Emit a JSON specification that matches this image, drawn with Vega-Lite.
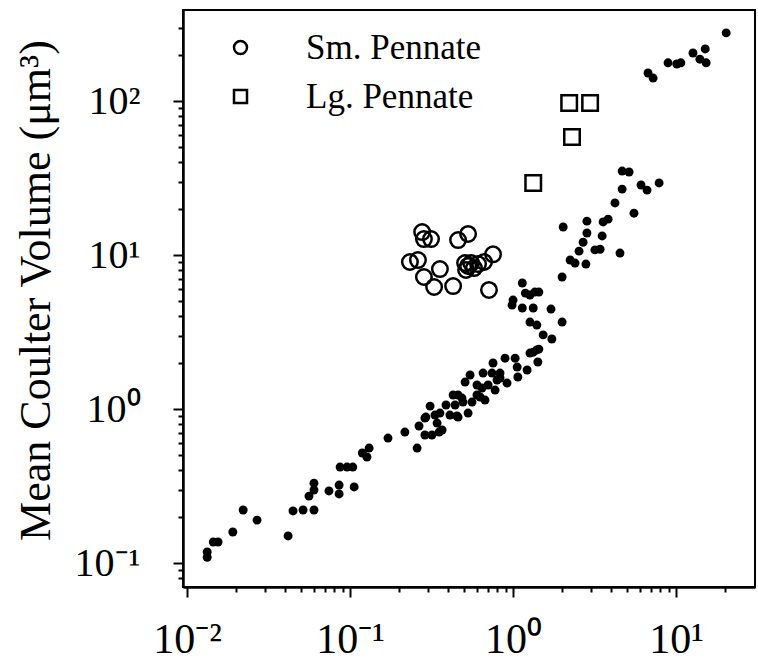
{
  "$schema": "https://vega.github.io/schema/vega-lite/v6.json",
  "width": 572,
  "height": 577,
  "autosize": {"type": "none"},
  "padding": {"left": 183, "top": 10, "right": 3, "bottom": 80},
  "background": "white",
  "config": {
    "view": {"stroke": "black", "strokeWidth": 2},
    "font": "Liberation Serif",
    "axis": {
      "domainColor": "black", "domainWidth": 2.5, "tickColor": "black", "tickWidth": 2,
      "labelColor": "black", "labelFont": "Liberation Serif", "titleFont": "Liberation Serif",
      "titleColor": "black", "titleFontWeight": "normal", "grid": false,
      "labelFlush": false, "labelOverlap": false
    }
  },
  "datasets": {
    "dots": [
      {"x":0.0133,"y":0.118},{"x":0.0133,"y":0.109},{"x":0.0145,"y":0.137},{"x":0.0155,"y":0.137},
      {"x":0.0191,"y":0.159},{"x":0.0221,"y":0.221},{"x":0.0269,"y":0.19},{"x":0.0417,"y":0.15},
      {"x":0.0447,"y":0.218},{"x":0.0515,"y":0.221},{"x":0.0601,"y":0.221},{"x":0.056,"y":0.272},
      {"x":0.0601,"y":0.33},{"x":0.0601,"y":0.298},{"x":0.0743,"y":0.294},{"x":0.0857,"y":0.321},
      {"x":0.0857,"y":0.281},{"x":0.106,"y":0.312},{"x":0.0869,"y":0.42},{"x":0.0959,"y":0.42},
      {"x":0.104,"y":0.42},{"x":0.119,"y":0.518},{"x":0.131,"y":0.558},{"x":0.127,"y":0.488},
      {"x":0.171,"y":0.648},{"x":0.217,"y":0.709},{"x":0.258,"y":0.558},{"x":0.265,"y":0.776},
      {"x":0.292,"y":0.887},{"x":0.31,"y":1.045},{"x":0.288,"y":0.678},{"x":0.318,"y":0.678},
      {"x":0.352,"y":0.709},{"x":0.342,"y":0.811},{"x":0.356,"y":0.942},{"x":0.388,"y":1.062},
      {"x":0.41,"y":0.914},{"x":0.453,"y":0.901},{"x":0.53,"y":0.942},{"x":0.441,"y":1.062},
      {"x":0.493,"y":1.11},{"x":0.56,"y":1.11},{"x":0.673,"y":1.144},{"x":0.367,"y":0.731},
      {"x":0.429,"y":1.233},{"x":0.46,"y":1.233},{"x":0.486,"y":1.178},{"x":0.508,"y":1.497},
      {"x":0.545,"y":1.663},{"x":0.601,"y":1.432},{"x":0.645,"y":1.368},{"x":0.628,"y":1.197},
      {"x":0.703,"y":1.432},{"x":0.776,"y":1.328},{"x":0.798,"y":1.543},{"x":0.655,"y":1.713},
      {"x":0.743,"y":1.713},{"x":0.832,"y":1.713},{"x":0.754,"y":1.99},{"x":0.893,"y":2.14},
      {"x":1.03,"y":2.14},{"x":1.06,"y":1.873},{"x":1.07,"y":1.614},{"x":1.22,"y":1.792},
      {"x":0.919,"y":1.475},{"x":1.27,"y":2.31},{"x":1.4,"y":2.42},{"x":1.42,"y":2.02},
      {"x":1.53,"y":3.03},{"x":1.73,"y":2.85},{"x":1.27,"y":3.67},{"x":1.4,"y":3.51},
      {"x":2.0,"y":3.67},{"x":1.14,"y":6.58},{"x":1.19,"y":5.66},{"x":1.27,"y":5.5},
      {"x":1.36,"y":5.75},{"x":1.44,"y":5.75},{"x":1.0,"y":5.1},{"x":0.986,"y":4.73},
      {"x":1.14,"y":4.53},{"x":1.33,"y":4.53},{"x":1.71,"y":4.46},{"x":2.0,"y":7.2},
      {"x":2.24,"y":9.28},{"x":2.4,"y":8.87},{"x":2.8,"y":8.74},{"x":2.54,"y":10.6},
      {"x":2.69,"y":12.1},{"x":2.84,"y":13.9},{"x":2.03,"y":15.2},{"x":2.84,"y":16.6},
      {"x":3.57,"y":16.4},{"x":3.83,"y":17.1},{"x":3.52,"y":13.3},{"x":3.18,"y":10.8},
      {"x":3.42,"y":10.9},{"x":4.53,"y":10.3},{"x":4.22,"y":21.8},{"x":4.67,"y":26.8},
      {"x":5.52,"y":18.7},{"x":4.67,"y":35.1},{"x":5.15,"y":34.6},{"x":6.1,"y":28.5},
      {"x":6.64,"y":26.4},{"x":7.87,"y":29.4},{"x":6.73,"y":152},{"x":7.23,"y":141},
      {"x":8.93,"y":177},{"x":10.1,"y":174},{"x":10.7,"y":177},{"x":12.7,"y":205},
      {"x":15.1,"y":218},{"x":14.0,"y":187},{"x":15.3,"y":177},{"x":20.3,"y":277},
      {"x":0.288,"y":0.874},{"x":0.332,"y":0.914},{"x":0.46,"y":0.887},{"x":0.832,"y":1.59},
      {"x":0.601,"y":1.233},{"x":1.33,"y":2.34},{"x":1.44,"y":2.45}
    ],
    "pennate": [
      {"x":0.277,"y":14.1,"group":"Sm. Pennate"},{"x":0.284,"y":12.7,"group":"Sm. Pennate"},
      {"x":0.314,"y":12.7,"group":"Sm. Pennate"},{"x":0.46,"y":12.5,"group":"Sm. Pennate"},
      {"x":0.53,"y":13.7,"group":"Sm. Pennate"},{"x":0.233,"y":9.01,"group":"Sm. Pennate"},
      {"x":0.261,"y":9.28,"group":"Sm. Pennate"},{"x":0.356,"y":8.11,"group":"Sm. Pennate"},
      {"x":0.284,"y":7.2,"group":"Sm. Pennate"},{"x":0.328,"y":6.2,"group":"Sm. Pennate"},
      {"x":0.429,"y":6.29,"group":"Sm. Pennate"},{"x":0.712,"y":5.93,"group":"Sm. Pennate"},
      {"x":0.53,"y":8.49,"group":"Sm. Pennate"},{"x":0.515,"y":8.0,"group":"Sm. Pennate"},
      {"x":0.553,"y":8.87,"group":"Sm. Pennate"},{"x":0.576,"y":8.23,"group":"Sm. Pennate"},
      {"x":0.61,"y":8.74,"group":"Sm. Pennate"},{"x":0.664,"y":9.01,"group":"Sm. Pennate"},
      {"x":0.754,"y":10.1,"group":"Sm. Pennate"},{"x":0.508,"y":8.87,"group":"Sm. Pennate"},
      {"x":2.21,"y":97.1,"group":"Lg. Pennate"},{"x":2.97,"y":97.1,"group":"Lg. Pennate"},
      {"x":2.3,"y":58.4,"group":"Lg. Pennate"},{"x":1.33,"y":29.4,"group":"Lg. Pennate"}
    ]
  },
  "layer": [
    {
      "data": {"name": "dots"},
      "mark": {"type": "point", "filled": true, "color": "black", "size": 80, "opacity": 1, "strokeWidth": 0},
      "encoding": {
        "x": {
          "field": "x", "type": "quantitative",
          "scale": {"type": "log", "domain": [0.00945, 30.5], "nice": false, "zero": false},
          "axis": {
            "title": null,
            "values": [0.01,0.02,0.03,0.04,0.05,0.06,0.07,0.08,0.09,0.1,0.2,0.3,0.4,0.5,0.6,0.7,0.8,0.9,1,2,3,4,5,6,7,8,9,10,20],
            "labelExpr": "abs(log(datum.value)/LN10 - round(log(datum.value)/LN10)) < 0.001 ? '10' + ['⁻²','⁻¹','⁰','¹','²'][round(log(datum.value)/LN10)+2] : ''",
            "tickSize": {"condition": {"test": "abs(log(datum.value)/LN10 - round(log(datum.value)/LN10)) < 0.001", "value": 10}, "value": 5},
            "labelFontSize": 42,
            "labelPadding": 22
          }
        },
        "y": {
          "field": "y", "type": "quantitative",
          "scale": {"type": "log", "domain": [0.0699, 390], "nice": false, "zero": false},
          "axis": {
            "title": "Mean Coulter Volume (μm³)",
            "titleFontSize": 44,
            "titlePadding": 16,
            "titleY": 280,
            "values": [0.08,0.09,0.1,0.2,0.3,0.4,0.5,0.6,0.7,0.8,0.9,1,2,3,4,5,6,7,8,9,10,20,30,40,50,60,70,80,90,100,200,300],
            "labelExpr": "abs(log(datum.value)/LN10 - round(log(datum.value)/LN10)) < 0.001 ? '10' + ['⁻¹','⁰','¹','²'][round(log(datum.value)/LN10)+1] : ''",
            "tickSize": {"condition": {"test": "abs(log(datum.value)/LN10 - round(log(datum.value)/LN10)) < 0.001", "value": 10}, "value": 5},
            "labelFontSize": 40,
            "labelPadding": 33
          }
        }
      }
    },
    {
      "data": {"name": "pennate"},
      "mark": {"type": "point", "filled": false, "color": "black", "size": 240, "strokeWidth": 2.5, "opacity": 1},
      "encoding": {
        "x": {"field": "x", "type": "quantitative", "scale": {"type": "log", "domain": [0.00945, 30.5], "nice": false, "zero": false}},
        "y": {"field": "y", "type": "quantitative", "scale": {"type": "log", "domain": [0.0699, 390], "nice": false, "zero": false}},
        "shape": {
          "field": "group", "type": "nominal",
          "scale": {"domain": ["Sm. Pennate", "Lg. Pennate"], "range": ["circle", "square"]},
          "legend": {
            "title": null, "orient": "none", "legendX": 40, "legendY": 20,
            "labelFont": "Liberation Serif", "labelFontSize": 35, "labelColor": "black", "labelLimit": 0,
            "symbolSize": 169, "symbolStrokeWidth": 2.5, "symbolStrokeColor": "black",
            "labelOffset": 48, "rowPadding": 13
          }
        }
      }
    }
  ]
}
